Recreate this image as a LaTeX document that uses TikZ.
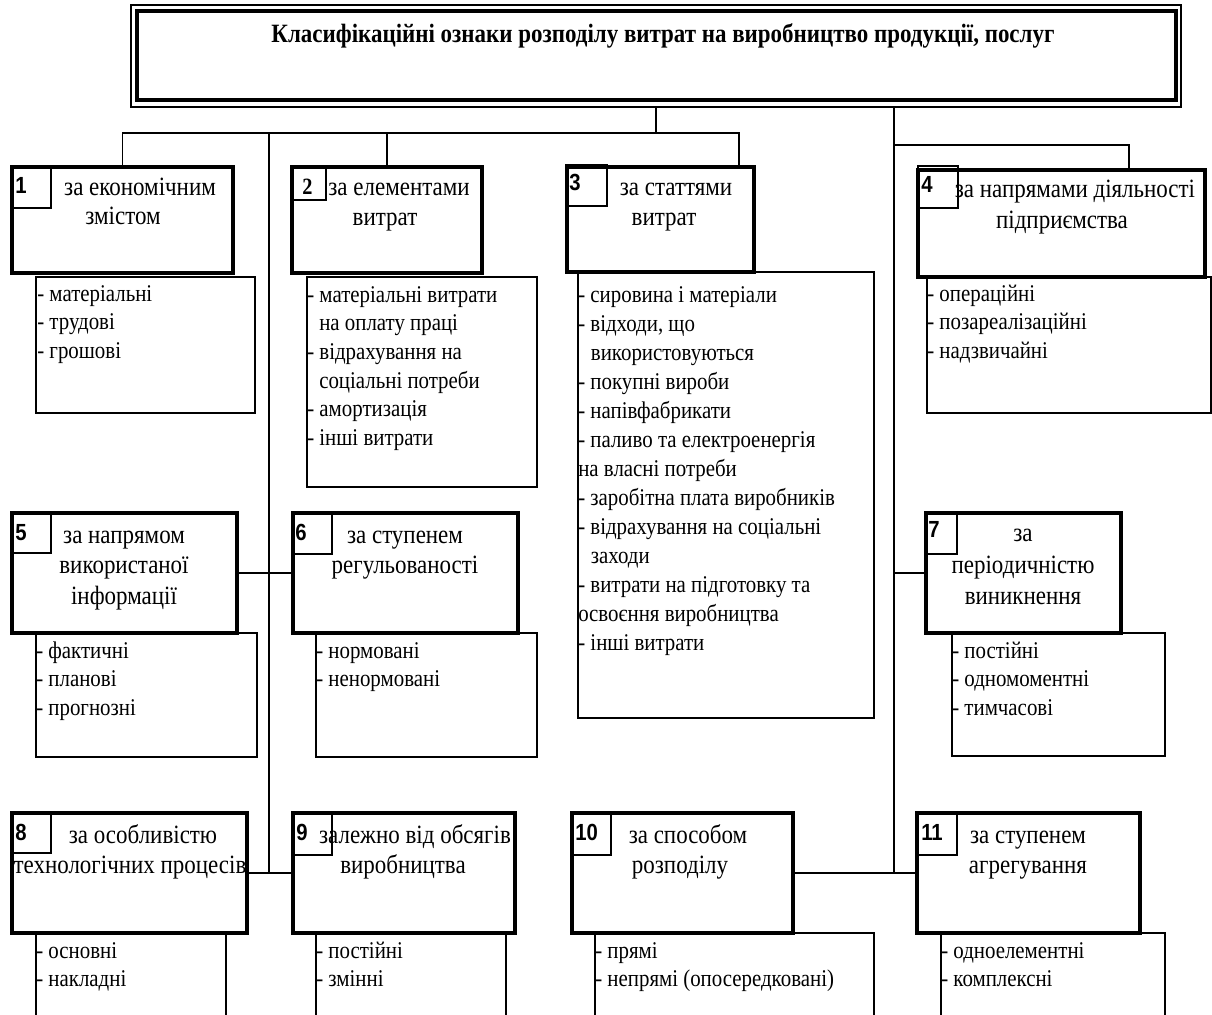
\documentclass[tikz,border=0pt]{standalone}
\usepackage{fontspec}
\setmainfont{Liberation Serif}[FakeStretch=0.87]
\newfontfamily\numfont{Liberation Sans}[FakeStretch=0.87]
\newcommand\rbox[6]{\node[#1, anchor=north west, minimum width={(#5-#3)*0.75pt}, minimum height={(#6-#4)*0.75pt}] (#2) at (#3,#4) {};}
\newcommand\lst[5]{\foreach \s [count=\i from 0] in {#5}{\node[ltxt] (#1-\i) at (#2,{#3+\i*#4}) {\s};}}
\begin{document}
\begin{tikzpicture}[x=0.75pt,y=-0.75pt,
  hdr/.style={draw, line width=2.6pt, fill=white, inner sep=0pt, outer sep=0pt},
  numb/.style={draw, line width=1.5pt, inner sep=0pt, outer sep=0pt},
  lstbox/.style={draw, line width=0.9pt, inner sep=0pt, outer sep=0pt},
  thinb/.style={draw, line width=0.9pt, inner sep=0pt, outer sep=0pt},
  thickb/.style={draw, line width=3.6pt, inner sep=0pt, outer sep=0pt},
  conn/.style={line width=0.9pt},
  htxt/.style={font=\fontsize{19.8}{22}\selectfont, inner sep=0pt, anchor=base},
  ltxt/.style={font=\fontsize{18}{21}\selectfont, inner sep=0pt, anchor=base west},
  ntxt/.style={font=\numfont\bfseries\fontsize{17.5}{20}\selectfont, inner sep=0pt, anchor=base west},
  stxt/.style={font=\bfseries\fontsize{17.5}{20}\selectfont, inner sep=0pt, anchor=base west}]
\useasboundingbox[fill=white] (0,0) rectangle (1212,1014);

% title
\rbox{thinb}{title}{131}{5}{1181}{107}
\rbox{thickb}{titlein}{137}{11}{1176}{100}
\node[font=\bfseries\fontsize{19.8}{22}\selectfont, inner sep=0pt, anchor=base] (ttl) at (663,42) {Класифікаційні ознаки розподілу витрат на виробництво продукції, послуг};

% list boxes
\rbox{lstbox}{l1}{36}{277}{255}{413}
\rbox{lstbox}{l2}{307}{277}{537}{487}
\rbox{lstbox}{l3}{578}{272}{874}{718}
\rbox{lstbox}{l4}{927}{277}{1211}{413}
\rbox{lstbox}{l5}{36}{633}{257}{757}
\rbox{lstbox}{l6}{316}{633}{537}{757}
\rbox{lstbox}{l7}{952}{633}{1165}{756}
\rbox{lstbox}{l8}{36}{933}{226}{1040}
\rbox{lstbox}{l9}{316}{933}{506}{1040}
\rbox{lstbox}{l10}{595}{933}{874}{1040}
\rbox{lstbox}{l11}{941}{933}{1165}{1040}

% header boxes
\rbox{hdr}{b1}{12}{167}{233}{273}
\rbox{hdr}{b2}{292}{167}{482}{273}
\rbox{hdr}{b3}{567}{167}{754}{272}
\rbox{hdr}{b4}{918}{170}{1205}{277}
\rbox{hdr}{b5}{12}{513}{237}{633}
\rbox{hdr}{b6}{293}{513}{518}{633}
\rbox{hdr}{b7}{926}{513}{1121}{633}
\rbox{hdr}{b8}{12}{813}{247}{933}
\rbox{hdr}{b9}{293}{813}{515}{933}
\rbox{hdr}{b10}{572}{813}{793}{933}
\rbox{hdr}{b11}{917}{813}{1140}{933}

% number boxes
\rbox{numb}{n1}{12}{167}{51}{208}
\rbox{numb}{n2}{292}{167}{326}{200}
\rbox{numb}{n3}{566}{165}{607}{206}
\rbox{numb}{n4}{918}{166}{958}{208}
\rbox{numb}{n5}{12}{513}{51}{553}
\rbox{numb}{n6}{293}{513}{332}{554}
\rbox{numb}{n7}{926}{513}{957}{554}
\rbox{numb}{n8}{12}{813}{51}{853}
\rbox{numb}{n9}{293}{813}{332}{855}
\rbox{numb}{n10}{572}{813}{611}{855}
\rbox{numb}{n11}{917}{813}{957}{855}

\node[ntxt] (d1) at (15,193) {1};
\node[stxt] (d2) at (302,194) {2};
\node[ntxt] (d3) at (569,190) {3};
\node[ntxt] (d4) at (921,192) {4};
\node[ntxt] (d5) at (15,540) {5};
\node[ntxt] (d6) at (295,540) {6};
\node[ntxt] (d7) at (928,537) {7};
\node[ntxt] (d8) at (15,840) {8};
\node[ntxt] (d9) at (296,840) {9};
\node[ntxt] (d10) at (575,840) {10};
\node[ntxt] (d11) at (921,840) {11};

% header texts
\node[htxt] (t1a) at (140,195) {за економічним};
\node[htxt] (t1b) at (123,224) {змістом};
\node[htxt] (t2a) at (399,195) {за елементами};
\node[htxt] (t2b) at (385,225) {витрат};
\node[htxt] (t3a) at (676,195) {за статтями};
\node[htxt] (t3b) at (664,225) {витрат};
\node[htxt] (t4a) at (1075,197) {за напрямами діяльності};
\node[htxt] (t4b) at (1062,228) {підприємства};
\node[htxt] (t5a) at (124,543) {за напрямом};
\node[htxt] (t5b) at (124,573) {використаної};
\node[htxt] (t5c) at (124,604) {інформації};
\node[htxt] (t6a) at (405,543) {за ступенем};
\node[htxt] (t6b) at (405,573) {регульованості};
\node[htxt] (t7a) at (1023,541) {за};
\node[htxt] (t7b) at (1023,573) {періодичністю};
\node[htxt] (t7c) at (1023,604) {виникнення};
\node[htxt] (t8a) at (143,843) {за особливістю};
\node[htxt] (t8b) at (130,873) {технологічних процесів};
\node[htxt] (t9a) at (415,843) {залежно від обсягів};
\node[htxt] (t9b) at (403,873) {виробництва};
\node[htxt] (t10a) at (688,843) {за способом};
\node[htxt] (t10b) at (680,873) {розподілу};
\node[htxt] (t11a) at (1028,843) {за ступенем};
\node[htxt] (t11b) at (1028,873) {агрегування};

% list texts
\lst{x1}{37}{301}{28.5}{- матеріальні, - трудові, - грошові}
\lst{x2}{307}{302}{28.7}{- матеріальні витрати, \hspace*{9pt}на оплату праці, - відрахування на, \hspace*{9pt}соціальні потреби, - амортизація, - інші витрати}
\lst{x3}{578}{302}{29}{- сировина і матеріали, {- відходи, що}, \hspace*{9.5pt}використовуються, - покупні вироби, - напівфабрикати, - паливо та електроенергія, на власні потреби, - заробітна плата виробників, - відрахування на соціальні, \hspace*{9.5pt}заходи, - витрати на підготовку та, освоєння виробництва, - інші витрати}
\lst{x4}{927}{301}{28.5}{- операційні, - позареалізаційні, - надзвичайні}
\lst{x5}{36}{658}{28.7}{- фактичні, - планові, - прогнозні}
\lst{x6}{316}{658}{28.7}{- нормовані, - ненормовані}
\lst{x7}{952}{658}{28.7}{- постійні, - одномоментні, - тимчасові}
\lst{x8}{36}{958}{28.5}{- основні, - накладні}
\lst{x9}{316}{958}{28.5}{- постійні, - змінні}
\lst{x10}{595}{958}{28.5}{- прямі, - непрямі (опосередковані)}
\lst{x11}{941}{958}{28.5}{- одноелементні, - комплексні}

% connectors
\coordinate (bus) at (0,133);
\coordinate (bus4) at (0,145);
\coordinate (x740) at (739,0);
\coordinate (x1129) at (1129,0);
\coordinate (vL) at (269,133);
\coordinate (vR) at (894,0);
\draw[conn] (title.south) -- (title.south |- bus);
\draw[conn] (b1.north) -- (b1.north |- bus) -- (x740 |- bus) -- (x740 |- b3.north);
\draw[conn] (b2.north) -- (b2.north |- bus);
\draw[conn] (vL) -- (vL |- b8.east);
\draw[conn] (b5.east) -- (b6.west);
\draw[conn] (b8.east) -- (b9.west);
\draw[conn] (vR |- title.south) -- (vR |- b10.east);
\draw[conn] (vR |- bus4) -- (x1129 |- bus4) -- (x1129 |- b4.north);
\draw[conn] (vR |- b7.west) -- (b7.west);
\draw[conn] (b10.east) -- (b11.west);
\end{tikzpicture}
\end{document}
